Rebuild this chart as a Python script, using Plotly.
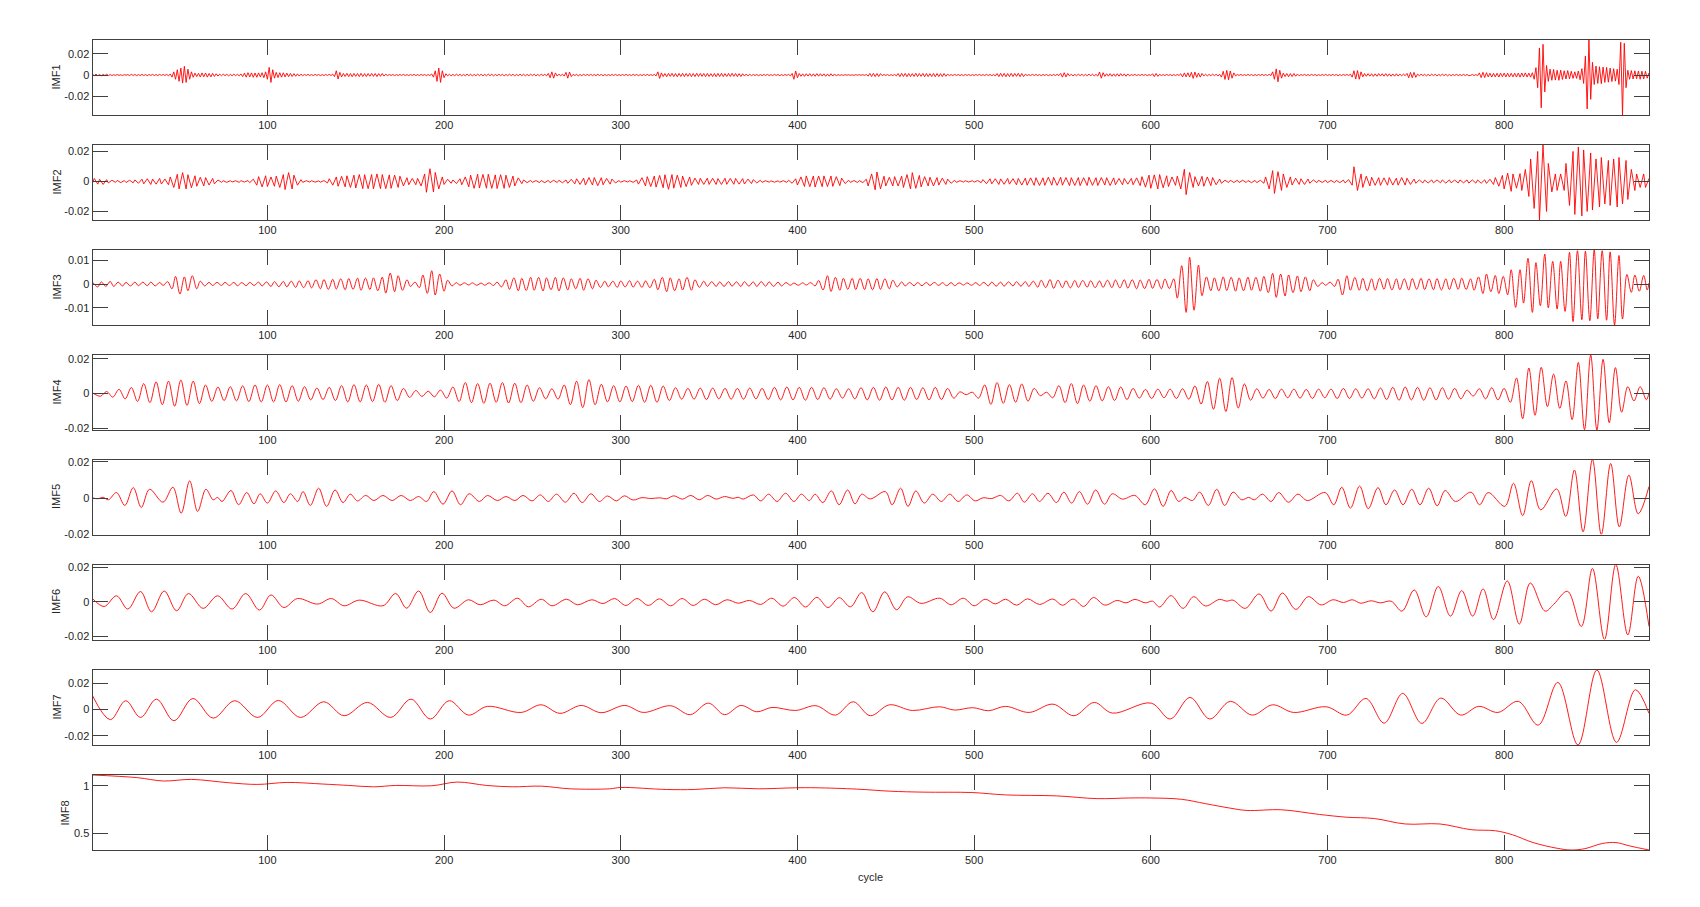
import plotly.graph_objects as go

# ------------------------------------------------------------------ data
cycle_ticks = [100, 200, 300, 400, 500, 600, 700, 800]
imf_names = ["IMF1", "IMF2", "IMF3", "IMF4", "IMF5", "IMF6", "IMF7", "IMF8"]
ytick_values = [[-0.02, 0, 0.02], [-0.02, 0, 0.02], [-0.01, 0, 0.01], [-0.02, 0, 0.02],
                [-0.02, 0, 0.02], [-0.02, 0, 0.02], [-0.02, 0, 0.02], [0.5, 1]]
ytick_labels = [["-0.02", "0", "0.02"], ["-0.02", "0", "0.02"], ["-0.01", "0", "0.01"],
                ["-0.02", "0", "0.02"], ["-0.02", "0", "0.02"], ["-0.02", "0", "0.02"],
                ["-0.02", "0", "0.02"], ["0.5", "1"]]

# IMF1: one value per cycle (cycles 1..882), units of 1e-4
imf1_e4 = [
    8,-6,9,-7,5,-8,6,-5,7,-4,3,-4,2,-3,4,-3,2,-4,3,-2,
    4,-5,6,-4,5,-6,4,-5,6,-5,4,-6,5,-4,6,-5,4,-5,6,-4,
    5,-4,6,-8,10,-20,30,-40,50,-60,65,-76,82,-70,55,-40,30,-22,18,-15,
    16,-18,20,-17,19,-20,15,-18,16,-14,12,-10,8,-7,8,-6,7,-8,6,-7,
    8,-6,7,-8,10,-15,18,-20,22,-18,20,-22,19,-21,20,-18,22,-25,30,-40,
    72,-70,50,-30,25,-24,22,-20,21,-18,18,-16,15,-14,13,-12,11,-10,8,-6,
    5,-4,6,-5,4,-5,6,-4,5,-6,4,-5,5,-4,6,-5,8,-15,40,-38,
    25,-18,15,-14,16,-15,14,-16,15,-13,14,-15,16,-14,13,-15,14,-12,15,-13,
    14,-15,13,-12,14,-10,8,-6,5,-4,5,-6,4,-5,5,-4,6,-5,4,-5,
    5,-4,6,-5,4,-5,6,-4,5,-6,4,-5,10,-20,40,-60,66,-70,40,-25,
    12,-8,7,-8,6,-7,8,-6,7,-8,6,-7,8,-6,7,-8,6,-7,8,-6,
    7,-8,6,-7,8,-6,7,-8,6,-7,8,-6,7,-8,6,-7,8,-6,7,-8,
    6,-7,8,-6,7,-8,6,-7,8,-6,7,-8,6,-7,8,-6,7,-8,15,-25,
    30,-30,20,-10,8,-7,8,-10,25,-30,28,-15,6,-5,6,-7,5,-6,7,-5,
    6,-5,7,-6,5,-6,7,-5,6,-7,5,-6,4,-5,5,-4,6,-5,4,-5,
    5,-4,6,-5,4,-5,6,-4,5,-6,4,-5,5,-4,6,-5,4,-5,6,-8,
    30,-32,20,-15,14,-16,15,-13,16,-15,14,-16,15,-14,16,-15,14,-13,15,-16,
    14,-15,16,-14,15,-13,14,-16,15,-14,13,-15,14,-16,15,-14,16,-15,13,-14,
    15,-14,16,-13,14,-15,13,-14,12,-10,9,-8,7,-6,5,-4,5,-6,4,-5,
    5,-4,6,-5,4,-5,6,-4,5,-6,4,-5,5,-4,6,-8,15,-40,38,-25,
    14,-12,11,-13,12,-10,13,-12,11,-12,13,-11,12,-10,11,-12,10,-11,12,-10,
    10,-8,4,-3,2,-3,3,-2,3,-3,2,-3,3,-2,3,-2,3,-3,5,-10,
    15,-14,16,-15,14,-15,13,-6,5,-4,5,-6,4,-5,5,-8,14,-15,16,-14,
    15,-16,14,-15,13,-14,16,-15,14,-13,15,-16,14,-15,13,-14,15,-16,14,-15,
    13,-15,14,-12,8,-5,4,-5,6,-4,5,-5,4,-6,5,-4,5,-6,4,-5,
    5,-4,6,-5,4,-5,6,-4,5,-6,4,-8,14,-15,16,-14,15,-16,14,-15,
    16,-14,15,-13,16,-15,14,-15,8,-5,4,-5,6,-4,5,-5,4,-6,5,-4,
    5,-6,4,-5,5,-4,6,-5,15,-20,22,-18,15,-8,7,-8,6,-7,8,-6,
    7,-8,6,-7,8,-6,7,-8,6,-10,28,-30,22,-13,12,-11,13,-12,11,-12,
    12,-11,13,-10,11,-12,10,-8,5,-4,6,-5,4,-5,6,-4,5,-6,4,-5,
    12,-15,14,-13,6,-5,4,-5,6,-4,5,-6,4,-5,5,-4,12,-18,20,-17,
    21,-19,25,-32,28,-22,18,-20,15,-8,7,-8,6,-7,8,-6,7,-8,6,-20,
    35,-42,44,-45,38,-30,20,-8,5,-4,6,-5,4,-5,6,-4,5,-6,4,-5,
    5,-4,6,-5,4,-5,6,-5,30,-40,58,-64,45,-30,18,-15,14,-16,13,-15,
    14,-12,10,-8,5,-4,6,-5,4,-5,6,-4,5,-6,4,-5,5,-4,6,-5,
    4,-5,6,-4,5,-6,4,-5,5,-4,6,-5,8,-20,40,-38,42,-40,30,-18,
    14,-12,13,-11,12,-13,11,-12,13,-10,12,-11,13,-12,11,-12,10,-11,12,-10,
    8,-7,8,-6,15,-25,24,-26,25,-22,8,-7,8,-6,7,-8,6,-7,8,-6,
    7,-8,6,-7,8,-6,7,-8,6,-7,5,-4,6,-5,4,-5,6,-4,5,-6,
    -4,5,-5,4,-6,20,-25,26,-24,22,-18,17,-19,16,-18,17,-19,18,-16,18,
    -18,17,-19,16,-18,17,-19,18,-20,19,-18,20,-19,18,-20,22,-40,70,-120,256,
    -310,290,-160,90,-60,55,-50,52,-48,45,-50,46,-42,40,-38,42,-36,35,-32,30,
    -32,38,-45,60,-80,180,-320,331,-230,120,-90,85,-80,78,-82,75,-70,72,-68,65,
    -62,60,-58,55,-90,310,-378,300,-120,45,-40,42,-38,40,-35,38,-40,36,-38,35,
    -30,20,
]

# IMF2: extrema (cycle, value in 1e-3)
imf2_x = [
    1,
    2,4,5,7,9,10, 12,14,15,17,19,20, 22,24,25,27,29,30, 32,34,35,37,39,40,
    42,44,45,47,49,50, 52,54,55,57,59,60, 62,64,65,67,69,70, 72,74,75,77,79,80,
    82,84,85,87,89,90, 92,94,95,97,99,100, 102,104,105,107,109,110, 112,114,115,117,119,120,
    122,124,125,127,129,130, 132,134,135,137,139,140, 142,144,145,147,149,150, 152,154,155,157,159,160,
    162,164,165,167,169,170, 172,174,175,177,179,180, 182,184,185,187,189,190, 192,194,195,197,199,200,
    202,204,205,207,209,210, 212,214,215,217,219,220, 222,224,225,227,229,230, 232,234,235,237,239,240,
    242,244,245,247,249,250, 252,254,255,257,259,260, 262,264,265,267,269,270, 272,274,275,277,279,280,
    282,284,285,287,289,290, 292,294,295,297,299,300, 302,304,305,307,309,310, 312,314,315,317,319,320,
    322,324,325,327,329,330, 332,334,335,337,339,340, 342,344,345,347,349,350, 352,354,355,357,359,360,
    362,364,365,367,369,370, 372,374,375,377,379,380, 382,384,385,387,389,390, 392,394,395,397,399,400,
    402,404,405,407,409,410, 412,414,415,417,419,420, 422,424,425,427,429,430, 432,434,435,437,439,440,
    442,444,445,447,449,450, 452,454,455,457,459,460, 462,464,465,467,469,470, 472,474,475,477,479,480,
    482,484,485,487,489,490, 492,494,495,497,499,500, 502,504,505,507,509,510, 512,514,515,517,519,520,
    522,524,525,527,529,530, 532,534,535,537,539,540, 542,544,545,547,549,550, 552,554,555,557,559,560,
    562,564,565,567,569,570, 572,574,575,577,579,580, 582,584,585,587,589,590, 592,594,595,597,599,600,
    602,604,605,607,609,610, 612,614,615,617,619,620, 622,624,625,627,629,630, 632,634,635,637,639,640,
    642,644,645,647,649,650, 652,654,655,657,659,660, 662,664,665,667,669,670, 672,674,675,677,679,680,
    682,684,685,687,689,690, 692,694,695,697,699,700, 702,704,705,707,709,710, 712,714,715,717,719,720,
    722,724,725,727,729,730, 732,734,735,737,739,740, 742,744,745,747,749,750, 752,754,755,757,759,760,
    762,764,765,767,769,770, 772,774,775,777,779,780, 782,784,785,787,789,790, 792,794,795,797,799,800,
    802,804,805,807,809,810, 812,814,815,817,819,820, 822,824,825,827,829,830, 832,834,835,837,839,840,
    842,844,845,847,849,850, 852,854,855,857,859,860, 862,864,865,867,869,870, 872,874,875,877,879,880,
    882,
]
imf2_e3 = [
    -1.0,
    2.0,-1.8,1.5,-2.0,1.2,-1.0, 0.8,-0.6,0.7,-0.8,0.6,-0.7, 0.8,-0.9,1.0,-1.2,1.5,-1.6, 1.8,-2.0,1.6,-1.8,2.0,-1.7,
    1.6,-2.2,3.0,-4.0,4.8,-5.0, 5.9,-5.0,4.5,-4.2,3.8,-3.2, 2.8,-3.0,2.6,-2.4,2.0,-1.6, 1.0,-0.6,0.5,-0.6,0.5,-0.4,
    0.5,-0.6,0.5,-0.4,0.6,-0.8, 1.5,-2.5,3.2,-3.6,3.8,-3.4, 3.0,-3.2,3.6,-4.0,4.6,-5.4, 5.9,-5.0,4.2,-2.5,1.2,-0.6,
    0.5,-0.4,0.5,-0.5,0.4,-0.5, 0.6,-1.0,1.8,-2.5,3.0,-3.2, 3.4,-3.6,3.8,-4.0,4.2,-4.4, 4.6,-4.8,4.5,-4.8,4.6,-4.9,
    5.0,-4.8,4.6,-4.8,4.4,-4.6, 4.2,-4.0,3.5,-3.0,2.5,-2.2, 2.0,-2.2,2.0,-3.0,5.0,-7.2, 8.5,-7.0,6.0,-5.0,3.0,-2.0,
    1.5,-1.2,1.0,-1.4,1.8,-2.2, 3.0,-3.6,4.2,-4.6,4.8,-4.4, 4.7,-4.5,4.8,-4.6,4.4,-4.7, 4.5,-4.6,4.2,-4.0,3.6,-3.0,
    2.4,-1.5,1.0,-0.8,0.7,-0.6, 0.6,-0.7,0.6,-0.8,0.7,-0.8, 0.8,-0.7,0.8,-0.9,1.0,-1.2, 1.4,-1.6,1.8,-2.0,2.2,-2.4,
    2.6,-2.4,2.6,-2.8,2.5,-2.2, 2.0,-1.8,1.6,-1.0,0.6,-0.5, 0.5,-0.4,0.5,-0.6,1.0,-1.8, 2.5,-3.0,3.2,-3.4,3.6,-3.8,
    4.0,-4.2,4.5,-5.2,4.6,-4.5, 4.2,-4.0,3.6,-3.4,3.0,-2.6, 2.2,-2.0,2.1,-2.0,2.2,-2.0, 2.1,-2.0,1.9,-2.0,2.1,-1.9,
    2.0,-1.9,2.0,-1.8,1.9,-1.7, 1.6,-1.4,1.2,-1.0,0.8,-0.6, 0.5,-0.5,0.4,-0.5,0.4,-0.5, 0.5,-0.6,0.8,-1.2,1.8,-2.4,
    3.0,-3.4,3.7,-3.5,3.6,-3.7, 3.6,-3.5,3.7,-3.4,3.6,-3.3, 3.2,-2.8,2.2,-1.4,0.8,-0.6, 0.6,-0.7,0.6,-0.8,1.5,-3.0,
    5.0,-5.6,6.3,-5.0,3.5,-3.0, 2.8,-3.0,3.2,-3.0,3.5,-4.0, 4.6,-5.0,5.9,-4.6,4.0,-3.6, 3.2,-3.0,2.8,-3.0,2.6,-2.4,
    2.2,-2.0,1.6,-1.2,0.8,-0.6, 0.5,-0.4,0.5,-0.4,0.5,-0.5, 0.6,-0.8,1.2,-1.5,1.8,-1.6, 1.8,-2.0,1.7,-1.9,2.0,-1.8,
    1.9,-2.2,2.0,-2.4,2.2,-2.5, 2.4,-2.6,2.5,-2.7,2.4,-2.6, 2.8,-2.5,2.7,-2.6,2.8,-2.5, 2.6,-2.8,2.5,-2.7,2.6,-2.8,
    2.5,-2.7,2.8,-2.6,2.5,-2.7, 2.6,-2.4,2.5,-2.7,2.4,-2.2, 2.0,-2.2,2.0,-1.8,2.0,-2.2, 2.4,-2.8,3.2,-3.8,4.2,-4.6,
    4.4,-5.0,4.6,-4.2,3.8,-3.4, 3.0,-2.6,3.5,-5.0,8.1,-8.8, 6.0,-4.0,3.2,-3.0,3.4,-3.2, 3.0,-2.8,2.6,-2.2,1.6,-1.2,
    0.8,-0.7,0.8,-0.7,0.8,-0.7, 0.8,-0.7,0.6,-0.8,0.7,-0.8, 0.8,-1.2,3.0,-5.0,7.2,-8.0, 6.5,-6.0,5.0,-4.0,3.0,-2.4,
    2.2,-2.0,1.8,-2.0,1.6,-1.2, 1.0,-0.8,0.8,-0.7,0.8,-0.8, 0.7,-0.8,0.7,-0.8,0.9,-1.0, 1.2,-2.5,9.8,-6.0,5.0,-4.0,
    3.5,-3.0,2.8,-2.6,2.5,-2.6, 2.4,-2.5,2.6,-2.4,2.2,-2.5, 2.6,-2.4,2.2,-2.0,1.6,-1.2, 1.0,-1.0,0.9,-1.0,1.0,-0.9,
    1.0,-0.9,1.0,-1.1,1.0,-0.9, 0.9,-1.0,1.0,-0.9,1.0,-1.1, 1.0,-1.1,1.0,-1.2,1.1,-1.3, 1.5,-2.0,2.6,-3.2,4.0,-5.0,
    5.5,-6.6,5.0,-4.5,5.2,-6.0, 8.0,-10.0,15.0,-18.0,20.0,-25.7, 24.3,-20.0,12.0,-7.0,5.0,-6.0, 5.0,-6.0,12.0,-16.0,20.0,-22.0,
    23.0,-23.0,21.0,-20.0,19.0,-19.0, 15.0,-17.0,16.0,-15.0,14.0,-16.0, 15.0,-17.0,16.0,-15.0,14.0,-12.0, 8.0,-6.0,5.0,-4.0,5.0,-4.0,
    2.0,
]

# IMF3: extrema (cycle, value in 1e-3)
imf3_x = [
    1,4,6,8.5,11,13, 15.5,18,20,22.5,25,27, 29.5,32,34,36.5,39,41, 43.5,46,48,50.5,53,55,
    57.5,60,62,64.5,67,69, 71.5,74,76,78.5,81,83, 85.5,88,90,92.5,95,97, 99.5,102,104,106.5,109,111,
    113.5,116,118,120.5,123,125, 127.5,130,132,134.5,137,139, 141.5,144,146,148.5,151,153,
    155.5,158,160,162.5,165,167, 169.5,172,174,176.5,179,181, 183.5,186,188,190.5,193,195,
    197.5,200,202,204.5,207,209, 211.5,214,216,218.5,221,223, 225.5,228,230,232.5,235,237,
    239.5,242,244,246.5,249,251, 253.5,256,258,260.5,263,265, 267.5,270,272,274.5,277,279,
    281.5,284,286,288.5,291,293, 295.5,298,300,302.5,305,307, 309.5,312,314,316.5,319,321,
    323.5,326,328,330.5,333,335, 337.5,340,342,344.5,347,349, 351.5,354,356,358.5,361,363,
    365.5,368,370,372.5,375,377, 379.5,382,384,386.5,389,391, 393.5,396,398,400.5,403,405,
    407.5,410,412,414.5,417,419, 421.5,424,426,428.5,431,433, 435.5,438,440,442.5,445,447,
    449.5,452,454,456.5,459,461, 463.5,466,468,470.5,473,475, 477.5,480,482,484.5,487,489,
    491.5,494,496,498.5,501,503, 505.5,508,510,512.5,515,517, 519.5,522,524,526.5,529,531,
    533.5,536,538,540.5,543,545, 547.5,550,552,554.5,557,559, 561.5,564,566,568.5,571,573,
    575.5,578,580,582.5,585,587, 589.5,592,594,596.5,599,601, 603.5,606,608,610.5,613,615,
    617.5,620,622,624.5,627,629, 631.5,634,636,638.5,641,643, 645.5,648,650,652.5,655,657,
    659.5,662,664,666.5,669,671, 673.5,676,678,680.5,683,685, 687.5,690,692,694.5,697,699,
    701.5,704,706,708.5,711,713, 715.5,718,720,722.5,725,727, 729.5,732,734,736.5,739,741,
    743.5,746,748,750.5,753,755, 757.5,760,762,764.5,767,769, 771.5,774,776,778.5,781,783,
    785.5,788,790,792.5,795,797, 799.5,802,804,806.5,809,811, 813.5,816,818,820.5,823,825,
    827.5,830,832,834.5,837,839, 841.5,844,846,848.5,851,853, 855.5,858,860,862.5,865,867,
    869.5,872,874,876.5,879,881,
    882,
]
imf3_e3 = [
    0.8,-1.2,0.9,-1.0,1.1,-1.0, 0.8,-0.8,0.7,-0.8,0.8,-0.7, 0.8,-0.7,0.8,-0.8,0.7,-0.6, 1.0,-2.0,3.2,-4.2,3.0,-2.8,
    3.5,-2.0,1.2,-0.8,0.7,-0.6, 0.7,-0.6,0.7,-0.6,0.7,-0.7, 0.6,-0.7,0.7,-0.6,0.8,-0.8, 0.9,-1.0,1.0,-1.1,1.1,-1.2,
    1.2,-1.4,1.3,-1.5,1.4,-1.6, 1.8,-2.0,1.9,-2.2,2.0,-2.1, 2.2,-2.4,2.3,-2.2,2.5,-2.6,
    2.5,-2.3,2.6,-2.8,2.9,-3.8, 4.6,-3.2,3.5,-2.6,1.8,-1.0, 0.8,-1.5,3.8,-3.9,5.6,-4.6,
    4.2,-3.0,1.6,-0.8,0.6,-0.5, 0.5,-0.4,0.5,-0.5,0.4,-0.5, 0.5,-0.6,0.8,-1.2,1.8,-2.2,
    2.6,-2.8,2.4,-2.7,2.8,-2.6, 2.8,-2.9,2.6,-2.4,2.8,-2.9, 2.6,-2.5,2.2,-2.0,2.4,-2.6,
    2.2,-2.0,1.6,-1.4,1.2,-1.2, 1.2,-1.4,1.3,-1.2,1.4,-1.3, 1.2,-1.4,1.3,-1.5,2.0,-2.4,
    2.8,-3.2,2.6,-2.8,2.2,-2.5, 2.8,-2.6,1.8,-1.4,1.2,-1.0, 1.0,-1.0,0.9,-1.0,1.0,-0.9,
    0.9,-1.0,1.0,-0.9,0.9,-1.0, 1.0,-0.9,0.9,-1.0,0.8,-0.8, 0.6,-0.5,0.4,-0.5,0.5,-0.4,
    0.6,-0.8,1.5,-2.5,3.5,-3.1, 2.8,-2.6,2.4,-2.2,2.4,-2.3, 2.4,-2.3,2.2,-2.4,2.3,-2.2,
    2.2,-2.0,1.6,-1.2,0.9,-0.8, 0.7,-0.7,0.6,-0.7,0.7,-0.6, 0.7,-0.6,0.6,-0.7,0.6,-0.7,
    0.5,-0.4,0.5,-0.5,0.6,-0.6, 0.7,-0.8,0.8,-0.9,0.8,-0.9, 0.9,-0.8,1.0,-0.9,1.0,-1.0,
    1.2,-1.3,1.6,-1.5,1.9,-1.8, 1.6,-1.5,1.4,-1.6,1.5,-1.4, 1.5,-1.3,1.4,-1.5,1.3,-1.4,
    1.6,-1.5,1.7,-1.6,1.8,-1.7, 1.8,-2.0,1.7,-1.9,2.0,-1.8, 1.9,-2.0,2.1,-1.9,2.2,-5.9,
    7.7,-11.9,11.2,-11.0,8.0,-4.9, 3.0,-2.8,2.6,-2.9,3.0,-2.7, 2.8,-3.0,2.6,-2.8,2.9,-2.6,
    2.8,-3.0,3.2,-3.6,4.5,-5.6, 4.2,-5.0,3.8,-3.6,3.4,-3.2, 3.0,-2.8,1.8,-1.0,0.6,-0.5,
    0.8,-1.0,2.0,-4.6,3.5,-2.6, 2.8,-2.6,2.4,-2.8,2.2,-2.6, 2.4,-2.2,2.3,-2.5,2.2,-2.4,
    2.2,-2.5,2.3,-2.2,2.4,-2.3, 2.2,-2.4,2.3,-2.5,2.2,-2.3, 2.4,-2.2,2.5,-2.3,2.2,-2.6,
    3.0,-4.0,4.2,-3.2,3.6,-4.0, 3.2,-4.5,6.0,-9.8,6.0,-8.0, 10.8,-11.9,9.0,-9.1,12.6,-10.0,
    9.5,-10.5,9.5,-11.5,13.3,-15.8, 14.0,-15.0,13.8,-15.4,14.3,-14.6, 14.0,-15.2,13.5,-17.2,12.0,-14.7,
    4.0,-3.5,3.8,-3.0,3.6,-2.5,
    0.5,
]

# IMF4: extrema (cycle, value in 1e-3)
imf4_x = [
    1,5.5,9,12.5, 16,19.5,23,26.5, 30,33.5,37,40.5, 44,47.5,51,54.5, 58,61.5,65,68.5,
    72,75.5,79,82.5, 86,89.5,93,96.5, 100,103.5,107,110.5, 114,117.5,121,124.5, 128,131.5,135,138.5,
    142,145.5,149,152.5, 156,159.5,163,166.5, 170,173.5,177,180.5, 184,187.5,191,194.5, 198,201.5,205,208.5,
    212,215.5,219,222.5, 226,229.5,233,236.5, 240,243.5,247,250.5, 254,257.5,261,264.5, 268,271.5,275,278.5,
    282,285.5,289,292.5, 296,299.5,303,306.5, 310,313.5,317,320.5, 324,327.5,331,334.5, 338,341.5,345,348.5,
    352,355.5,359,362.5, 366,369.5,373,376.5, 380,383.5,387,390.5, 394,397.5,401,404.5, 408,411.5,415,418.5,
    422,425.5,429,432.5, 436,439.5,443,446.5, 450,453.5,457,460.5, 464,467.5,471,474.5, 478,481.5,485,488.5,
    492,495.5,499,502.5, 506,509.5,513,516.5, 520,523.5,527,530.5, 534,537.5,541,544.5, 548,551.5,555,558.5,
    562,565.5,569,572.5, 576,579.5,583,586.5, 590,593.5,597,600.5, 604,607.5,611,614.5, 618,621.5,625,628.5,
    632,635.5,639,642.5, 646,649.5,653,656.5, 660,663.5,667,670.5, 674,677.5,681,684.5, 688,691.5,695,698.5,
    702,705.5,709,712.5, 716,719.5,723,726.5, 730,733.5,737,740.5, 744,747.5,751,754.5, 758,761.5,765,768.5,
    772,775.5,779,782.5, 786,789.5,793,796.5, 800,803.5,807,810.5, 814,817.5,821,824.5, 828,831.5,835,838.5,
    842,845.5,849,852.5, 856,859.5,863,866.5, 870,873.5,877,880.5,
    882,
]
imf4_e3 = [
    0.5,-1.5,1.2,-2.0, 2.5,-3.0,3.5,-4.5, 5.8,-5.2,6.8,-6.4, 7.2,-7.2,7.8,-6.8, 7.2,-5.8,5.0,-4.5,
    3.8,-4.0,4.0,-4.2, 4.5,-4.6,5.0,-4.8, 5.0,-4.8,5.2,-4.8, 4.6,-4.4,4.0,-3.6, 3.2,-3.4,3.6,-4.0,
    4.6,-4.8,5.2,-4.8, 5.0,-4.6,5.4,-5.0, 4.6,-4.0,3.0,-2.2, 1.8,-1.6,1.4,-1.8, 2.0,-2.6,3.8,-4.6,
    6.4,-5.2,5.8,-5.6, 6.0,-5.0,6.4,-5.4, 6.0,-5.2,5.0,-4.4, 3.4,-3.0,2.8,-3.2, 5.0,-6.4,7.2,-8.1,
    8.1,-6.4,5.4,-4.8, 4.6,-4.8,4.4,-4.6, 4.8,-5.0,4.8,-5.0, 4.4,-4.0,3.4,-3.2, 3.0,-3.2,3.2,-3.4,
    3.2,-3.0,3.0,-3.2, 3.0,-3.2,3.2,-3.0, 3.0,-3.4,3.6,-3.6, 3.8,-3.6,3.6,-3.8, 3.6,-3.4,3.4,-3.2,
    2.8,-2.6,2.8,-3.0, 3.4,-3.6,3.6,-3.8, 3.8,-3.6,3.6,-3.8, 3.6,-3.4,3.4,-3.6, 3.6,-3.4,3.0,-2.6,
    1.0,-0.6,0.8,-2.6, 5.0,-6.2,6.4,-5.6, 5.2,-5.0,5.6,-4.4, 3.0,-1.2,0.8,-2.4, 4.6,-5.2,5.8,-5.8,
    5.0,-4.4,4.6,-4.2, 4.0,-4.0,3.8,-3.4, 3.0,-2.6,2.4,-2.8, 2.6,-2.4,2.6,-2.8, 2.8,-3.2,4.4,-6.0,
    7.0,-9.0,8.9,-10.3, 9.3,-8.3,5.6,-3.8, 2.8,-2.6,2.4,-2.8, 2.6,-2.4,2.6,-2.6, 2.4,-2.8,2.6,-2.4,
    2.6,-2.8,3.0,-2.8, 2.8,-2.6,2.8,-3.0, 3.2,-3.4,3.6,-3.8, 3.8,-3.6,3.6,-3.8, 3.4,-3.6,3.4,-3.2,
    3.0,-3.0,2.0,-1.4, 2.8,-3.0,3.4,-3.6, 3.0,-5.0,9.0,-14.5, 14.8,-12.5,15.2,-7.5, 11.3,-8.5,7.3,-15.0,
    18.0,-20.8,22.3,-21.0, 19.8,-16.8,15.0,-10.7, 4.0,-4.2,4.0,-3.5,
    0.5,
]

# IMF5: extrema (cycle, value in 1e-3)
imf5_x = [
    1,4,7,10,14.6,19.3,24.1,28.6,33.3,40.9,46.5,51.2,56,60.5,65.2,69.3,71.8,74.3,79.4,83.7,
    88.3,92.4,95.9,100,104.7,109.3,113,117.1,120.2,124.3,129,133.5,138.3,142.8,146.9,151,155.6,160.3,165.4,170.6,
    175.7,180.9,185.6,190.1,194.2,199.4,204.5,209.3,214.2,220,224.5,230.2,235,240.1,244.7,249.8,254.5,259,263.6,268.7,
    273.5,278.2,283.1,287.9,292.5,297.5,302,307,312,317,322,326,330,334.9,339.7,344.4,349.2,354,358.8,363.6,
    366.5,369.3,375,379.3,383.7,388.5,393.3,398,402.3,406.7,410,414.4,419.2,423.6,428.4,432.6,436.4,441.2,449.8,453.6,
    458.4,462.6,467,471.8,476.6,481.4,486.2,491,495.8,500.6,505,510,515,519.7,524.5,528.4,533.1,537,541.8,546.6,
    550.8,555.2,559.6,564.2,568.8,573.8,578.2,584,591,596.9,602.1,607,611.5,615.8,619.3,623.6,627.7,632.6,637.3,641.8,
    646.6,651.5,655.4,658.7,663.2,668.1,672.4,677.9,683.3,688.6,698.7,703.6,708.1,713,718.2,723.1,728.6,733.1,738,742.8,
    747.7,752.4,757.3,762.1,766.6,772.5,781.3,786.1,791,800.4,805.3,810.5,815.4,820.7,829.7,834.9,839.8,844.7,850,855,
    860.3,865.2,870.6,875.9,882,
]
imf5_e3 = [
    0.2,-0.3,0.5,-0.9,3.1,-4.0,5.8,-5.1,4.9,-2.2,6.0,-8.2,9.5,-7.3,4.9,-0.9,0.4,-1.8,4.2,-3.6,
    3.1,-3.1,2.4,-2.7,4.0,-2.4,2.4,-1.8,3.6,-4.0,5.5,-4.5,4.5,-2.4,2.2,-1.5,1.5,-1.3,1.5,-1.3,
    1.5,-1.3,0.9,-1.8,3.6,-3.3,4.0,-3.6,2.4,-1.8,1.5,-1.3,0.9,-1.3,1.5,-1.5,1.8,-1.8,2.2,-2.2,
    2.7,-2.4,2.4,-1.8,1.2,-1.5,1.3,-1.0,0.3,-0.2,0.2,-0.3,1.3,-0.5,1.5,-0.9,1.5,-0.5,0.9,-0.1,
    0.5,-0.5,1.8,-1.5,2.2,-1.8,2.7,-1.8,2.2,-1.3,2.2,-2.4,4.0,-3.6,4.5,-3.1,2.2,-0.4,3.6,-3.6,
    5.5,-4.5,4.0,-2.7,2.2,-1.8,2.2,-1.8,1.8,-1.5,0.2,-0.2,1.5,-1.5,2.7,-2.2,2.4,-1.8,2.7,-2.4,
    3.3,-2.7,3.6,-3.3,4.5,-3.3,2.4,-0.5,1.5,-3.6,5.1,-4.5,4.2,-1.8,0.4,-1.3,3.3,-4.0,4.9,-4.0,
    3.3,-0.9,0.4,-0.9,2.2,-1.8,3.1,-2.2,2.2,-1.3,3.1,-3.6,6.0,-5.5,6.7,-5.8,5.8,-3.6,4.5,-3.6,
    4.9,-3.6,5.5,-4.2,4.2,-1.8,3.3,-3.6,3.1,-4.5,8.2,-9.6,9.6,-6.4,5.1,-10.0,15.5,-18.5,21.3,-20.0,
    19.1,-15.8,12.7,-8.6,6.4,
]

# IMF6: extrema (cycle, value in 1e-3)
imf6_x = [
    1,7.6,14.6,21,28.2,34.4,41.6,48.6,55.3,63.6,71.8,80,87.7,95.5,102,109.3,117,128.4,136.2,143.4,
    152,165.4,172.6,178.8,185.6,192.2,198.8,205.6,213.8,220.4,228.2,234.4,241.6,247.7,255,261.1,269.3,275.5,283.7,289.9,
    296.5,302.9,309.2,315.6,321.9,328.3,334.7,341,347.4,353.7,360.1,366.5,372.8,379.2,385.5,391.9,398.3,404.6,411,417.3,
    423.7,430,436.4,442.7,449.4,456.1,462.3,470,480.5,487,493.9,500,506.3,512,517.8,524,530.3,537,544.6,550,
    556.1,562,567.6,574,581,586,591,597,601,605,611.5,618.3,624.2,631,638.8,643,646.5,653.5,661.3,668.1,
    674.5,682.1,689.2,696.4,703.2,709.1,714,718.8,724.7,730,736,742.2,749.1,755.9,762.7,769.6,776,782.2,788.1,794,
    801.8,808.6,814.8,823.2,828.1,835.9,843.7,850,856.8,863.2,870,875.9,882,
]
imf6_e3 = [
    1.9,-2.7,3.5,-4.2,6.0,-5.8,6.3,-5.2,4.8,-3.8,3.5,-4.2,4.8,-4.8,4.0,-3.3,1.9,-1.3,1.9,-2.3,
    1.0,-2.3,4.8,-3.7,6.3,-6.2,5.0,-3.7,1.2,-1.7,1.0,-2.3,2.1,-2.9,1.5,-2.3,1.5,-1.7,1.2,-1.0,
    1.9,-2.1,1.9,-2.1,1.7,-2.3,1.9,-2.1,1.5,-1.7,1.2,-0.8,0.8,-1.5,2.1,-2.5,2.5,-3.0,2.6,-3.3,
    2.4,-2.9,5.4,-5.8,5.8,-4.6,2.9,-0.9,2.1,-1.7,2.1,-2.3,1.5,-1.2,1.5,-1.9,1.7,-1.5,1.6,-2.0,
    1.6,-2.7,2.5,-1.9,0.8,-0.6,1.4,-0.6,0.4,-3.0,3.6,-3.8,3.0,-2.4,1.4,0.4,1.0,-3.8,4.6,-5.4,
    5.1,-4.4,3.0,-1.8,1.2,-0.4,1.2,-0.8,0.6,-0.6,0.4,-5.4,6.9,-8.7,8.9,-8.3,6.5,-8.3,7.5,-10.3,
    12.1,-12.9,10.9,-5.4,-1.4,6.1,-14.3,19.4,-21.9,21.7,-19.2,14.9,-14.3,
]

# IMF7: extrema (cycle, value in 1e-3)
imf7_x = [
    1,11.1,19.8,28.2,37.2,47.1,57.8,69.3,81.5,94.4,106.2,118.7,131.9,143.4,156.6,169.8,181.3,192.2,202.9,213.8,
    224.5,243.6,254.9,265.6,277.6,288.9,302.3,312.8,328.2,339.3,349.6,358.8,368,377,385.6,399,410.5,421.5,431.6,441.2,
    452.1,465,480.5,489,499.2,508.2,517.8,531.2,544.6,556.5,568,578.2,600.2,611,622.2,633.4,645,657.4,669,680.8,
    699.3,711,721.8,732.1,742.6,753.4,764.1,775.4,785.6,796.5,808,819.3,830.4,841.8,852.5,863.6,874.3,882,
]
imf7_e3 = [
    10.4,-7.8,6.6,-6.1,7.8,-8.6,8.3,-6.6,6.6,-6.1,6.8,-6.1,5.8,-4.8,5.3,-6.1,7.8,-7.3,6.6,-4.3,
    2.3,-2.3,3.5,-3.0,3.0,-2.5,3.0,-2.3,2.8,-4.0,4.8,-4.0,3.0,-1.8,1.5,-0.8,2.8,-4.3,5.8,-4.8,
    3.5,-0.8,2.0,-0.5,1.3,-1.0,2.3,-2.3,4.0,-4.8,5.3,-2.8,4.8,-7.3,9.1,-7.3,6.1,-4.3,3.5,-2.3,
    2.0,-4.3,8.3,-10.4,12.1,-10.6,8.6,-4.3,2.3,-2.3,6.1,-11.9,20.5,-27.0,29.9,-25.0,14.9,-3.0,
]

# IMF8 (residual trend): (cycle, value)
imf8_x = [
    1,26.5,41,57,78,94.4,111,131.5,146,160,172.6,193,207.6,224,238.5,255,271.4,293.6,300,326,
    341.6,358.8,378,399,410.5,433.5,452.5,471.6,498.7,517.8,546.6,569.6,588,600,617.4,631,644.7,654.4,674,695.4,
    711,726.6,744,763.7,781.3,795,804.7,816.4,830,837.9,845.7,855.5,863.3,871,882,
]
imf8_y = [
    1.113,1.085,1.050,1.067,1.032,1.014,1.035,1.018,1.0035,0.989,1.0035,1.000,1.039,1.0035,0.989,0.996,0.968,0.968,0.982,0.961,
    0.961,0.979,0.968,0.979,0.979,0.965,0.943,0.933,0.929,0.904,0.894,0.865,0.872,0.872,0.858,0.812,0.766,0.741,0.748,0.699,
    0.670,0.656,0.599,0.599,0.539,0.528,0.486,0.404,0.344,0.326,0.340,0.394,0.404,0.369,0.326,
]

assert len(imf2_x) == len(imf2_e3), (len(imf2_x), len(imf2_e3))
assert len(imf3_x) == len(imf3_e3), (len(imf3_x), len(imf3_e3))
assert len(imf4_x) == len(imf4_e3), (len(imf4_x), len(imf4_e3))
assert len(imf5_x) == len(imf5_e3), (len(imf5_x), len(imf5_e3))
assert len(imf6_x) == len(imf6_e3), (len(imf6_x), len(imf6_e3))
assert len(imf7_x) == len(imf7_e3), (len(imf7_x), len(imf7_e3))
assert len(imf8_x) == len(imf8_y), (len(imf8_x), len(imf8_y))

# ------------------------------------------------------------------ figure
FIG_W, FIG_H = 1700, 907
X0_PX, X1_PX = 92.5, 1649.0
TOP_PX = [40, 145, 250, 355, 459.5, 564.5, 670, 775]
AX_H_PX = 75
X_RANGE = [1, 882]
LINE_RED = "#ff0000"
AXIS_COL = "#404040"
TXT_COL = "#262626"
FONT = dict(family="Liberation Sans, Arial, Helvetica, sans-serif", size=11, color=TXT_COL)

series = [
    (list(range(1, len(imf1_e4) + 1)), [v * 1e-4 for v in imf1_e4], "linear"),
    (imf2_x, [v * 1e-3 for v in imf2_e3], "linear"),
    (imf3_x, [v * 1e-3 for v in imf3_e3], "spline"),
    (imf4_x, [v * 1e-3 for v in imf4_e3], "spline"),
    (imf5_x, [v * 1e-3 for v in imf5_e3], "spline"),
    (imf6_x, [v * 1e-3 for v in imf6_e3], "spline"),
    (imf7_x, [v * 1e-3 for v in imf7_e3], "spline"),
    (imf8_x, imf8_y, "spline"),
]

fig = go.Figure()
layout = dict(
    template="none",
    width=FIG_W, height=FIG_H,
    margin=dict(l=0, r=0, t=0, b=0, pad=0, autoexpand=False),
    paper_bgcolor="white", plot_bgcolor="white",
    showlegend=False, font=FONT,
)
annotations = []
for i, (xs, ys, shape) in enumerate(series):
    k = i + 1
    sfx = "" if k == 1 else str(k)
    fig.add_trace(go.Scatter(
        x=xs, y=ys, mode="lines",
        line=dict(color=LINE_RED, width=0.9, shape=shape),
        xaxis="x" + sfx, yaxis="y" + sfx, hoverinfo="skip",
    ))
    top = TOP_PX[i]
    bot = top + AX_H_PX
    layout["xaxis" + sfx] = dict(
        domain=[X0_PX / FIG_W, X1_PX / FIG_W], range=X_RANGE, anchor="y" + sfx,
        tickmode="array", tickvals=cycle_ticks, ticktext=[str(t) for t in cycle_ticks],
        ticks="inside", ticklen=15, tickwidth=1, tickcolor=AXIS_COL,
        showline=True, linecolor=AXIS_COL, linewidth=1, mirror="ticks",
        showgrid=False, zeroline=False, tickfont=FONT, fixedrange=True, automargin=False,
    )
    layout["yaxis" + sfx] = dict(
        domain=[1 - bot / FIG_H, 1 - top / FIG_H], range=[min(ys), max(ys)], anchor="x" + sfx,
        tickmode="array", tickvals=ytick_values[i], ticktext=ytick_labels[i],
        ticks="inside", ticklen=15, tickwidth=1, tickcolor=AXIS_COL,
        showline=True, linecolor=AXIS_COL, linewidth=1, mirror="ticks",
        showgrid=False, zeroline=False, tickfont=FONT, fixedrange=True, automargin=False,
    )
    lab_x = 64 if k == 8 else 56
    annotations.append(dict(
        text=imf_names[i], x=lab_x / FIG_W, y=1 - (top + AX_H_PX / 2) / FIG_H,
        xref="paper", yref="paper", showarrow=False, textangle=-90,
        xanchor="center", yanchor="middle", font=FONT,
    ))

annotations.append(dict(
    text="cycle", x=((X0_PX + X1_PX) / 2) / FIG_W, y=1 - 877 / FIG_H,
    xref="paper", yref="paper", showarrow=False,
    xanchor="center", yanchor="middle", font=FONT,
))
layout["annotations"] = annotations
fig.update_layout(**layout)

fig.write_html(
    "out.html",
    config={"displayModeBar": False, "staticPlot": True},
    post_script="document.body.style.margin='0';document.body.style.overflow='hidden';",
)
